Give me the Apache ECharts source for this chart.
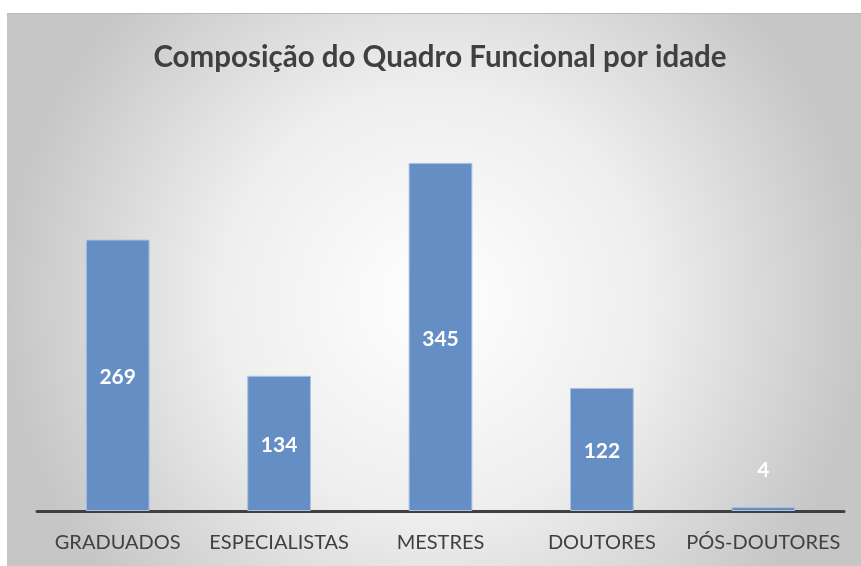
<!DOCTYPE html>
<html lang="pt">
<head>
    <meta charset="UTF-8">
    <title>Composição do Quadro Funcional</title>
    <script src="https://cdn.jsdelivr.net/npm/echarts@6/dist/echarts.min.js"></script>
    <style>
        html, body { margin: 0; padding: 0; background: #ffffff; }
        #main {
            position: absolute; left: 7px; top: 13px;
            width: 854px; height: 553px;
            box-sizing: border-box;
            border-top: 1px solid #b8b8b8; border-left: 1px solid #c4c4c4;
        }
    </style>
</head>
<body>
<div id="main"></div>
<script type="text/javascript">
    // categorias e valores
    var categorias = ["GRADUADOS", "ESPECIALISTAS", "MESTRES", "DOUTORES", "PÓS-DOUTORES"];
    var quantidades = [269, 134, 345, 122, 4];

    var myChart = echarts.init(document.getElementById('main'));

    var dados = quantidades.map(function (v) {
        var item = { value: v };
        // barra muito pequena: rótulo fica acima
        if (v < 20) {
            item.label = { offset: [0, -39] };
        }
        return item;
    });

    myChart.setOption({
        backgroundColor: {
            type: 'radial', x: 0.5, y: 0.52, r: 0.78,
            colorStops: [
                { offset: 0, color: '#ffffff' },
                { offset: 0.5, color: '#eeeeee' },
                { offset: 1, color: '#c6c6c6' }
            ]
        },
        title: {
            text: "Composição do Quadro Funcional por idade",
            left: 427, top: 23, textAlign: 'center',
            textStyle: { fontFamily: 'Lato', fontSize: 29.5, fontWeight: 'bold', color: '#404040' }
        },
        grid: { left: 29, right: 17, top: 93.4, bottom: 55 },
        xAxis: {
            type: 'category',
            data: categorias,
            axisLine: { lineStyle: { color: '#404040', width: 3 } },
            axisTick: { show: false },
            axisLabel: { fontFamily: 'Lato', fontSize: 20, color: '#404040', margin: 22, interval: 0 }
        },
        yAxis: {
            type: 'value', min: 0, max: 400,
            show: false,
            splitLine: { show: false }
        },
        series: [
            {
                name: "Quantidade",
                type: "bar",
                data: dados,
                barWidth: '39.5%',
                itemStyle: { color: '#658fc4', borderColor: '#a9c3e3', borderWidth: 1 },
                label: {
                    show: true, position: 'inside', offset: [0, 2],
                    fontFamily: 'Lato', fontSize: 21, fontWeight: 'bold', color: '#ffffff'
                }
            }
        ]
    });
</script>
</body>
</html>
